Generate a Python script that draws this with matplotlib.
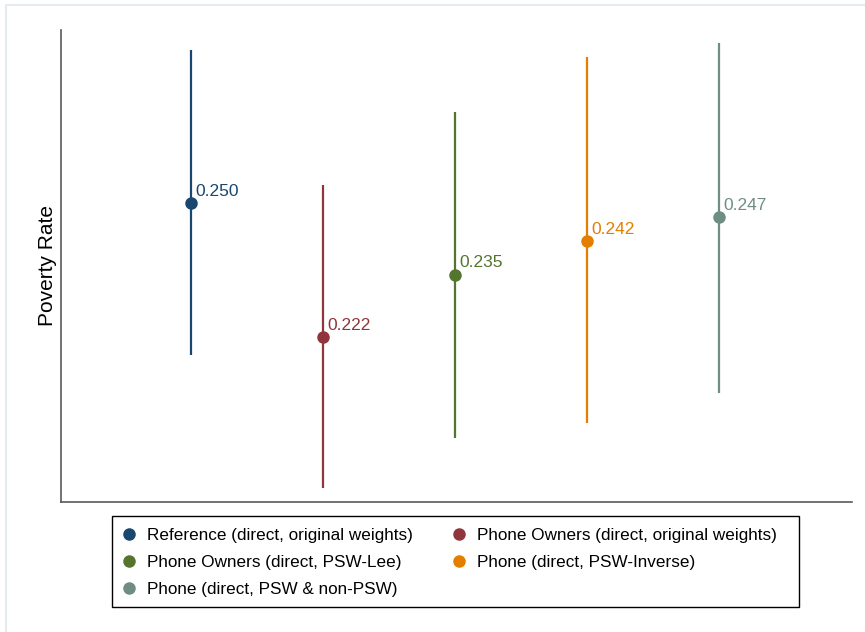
import matplotlib
matplotlib.use("Agg")
import matplotlib.pyplot as plt
from matplotlib.lines import Line2D
from matplotlib.patches import Rectangle

plt.rcParams['font.family'] = ['Liberation Sans', 'DejaVu Sans']

# Estimates with their confidence bounds
series = [
    "Reference (direct, original weights)",
    "Phone Owners (direct, original weights)",
    "Phone Owners (direct, PSW-Lee)",
    "Phone (direct, PSW-Inverse)",
    "Phone (direct, PSW & non-PSW)",
]
estimates = [0.250, 0.222, 0.235, 0.242, 0.247]
lower = [0.2182, 0.1905, 0.2009, 0.2040, 0.2103]
upper = [0.2820, 0.2538, 0.2690, 0.2805, 0.2834]
colors = ["#1a476f", "#90353b", "#55752f", "#e37e00", "#6e8e84"]

W, H = 865, 632
fig = plt.figure(figsize=(W / 100, H / 100), dpi=100)
ax = fig.add_axes([61 / W, 1 - 502 / H, (852 - 61) / W, (502 - 30) / H])

for i, (name, est, lo, hi, c) in enumerate(zip(series, estimates, lower, upper, colors)):
    x = i + 1
    ax.vlines(x, lo, hi, color=c, lw=1.6, zorder=2)
    ax.plot(x, est, 'o', color=c, ms=8, zorder=3)
    ax.annotate(f"{est:.3f}", (x, est), xytext=(3.5, 8.5), textcoords='offset points',
                ha='left', va='center', color=c, fontsize=12.5)

ax.set_xlim(0.015, 6.008)
ax.set_ylim(0.1875, 0.2861)
ax.set_xticks([])
ax.set_yticks([])
for s in ['top', 'right']:
    ax.spines[s].set_visible(False)
for s in ['left', 'bottom']:
    ax.spines[s].set_color('#5a5a5a')
    ax.spines[s].set_linewidth(1.2)
ax.set_ylabel("Poverty Rate", fontsize=15, labelpad=3)

handles = [Line2D([], [], marker='o', ls='none', color=c, ms=8) for c in colors]
order = [0, 2, 4, 1, 3]
leg = fig.legend([handles[i] for i in order], [series[i] for i in order],
                 loc='center', bbox_to_anchor=(451 / W, 1 - 562.5 / H), ncol=2,
                 fontsize=12.3, frameon=False,
                 handlelength=0.4, handletextpad=0.85, columnspacing=2.5,
                 labelspacing=0.70, borderpad=0.0)

# Legend box
fig.patches.append(Rectangle((112 / W, 1 - 607 / H), (799 - 112) / W, (607 - 516) / H,
                             transform=fig.transFigure, fill=False,
                             edgecolor='black', lw=1.0))

# Outer light frame around the graph region
fig.patches.append(Rectangle((6 / W, -0.1), 1.2, 1.1 - 5 / H, transform=fig.transFigure,
                             fill=False, edgecolor='#e4ecef', lw=1.5))

fig.savefig("out.png", dpi=100)
